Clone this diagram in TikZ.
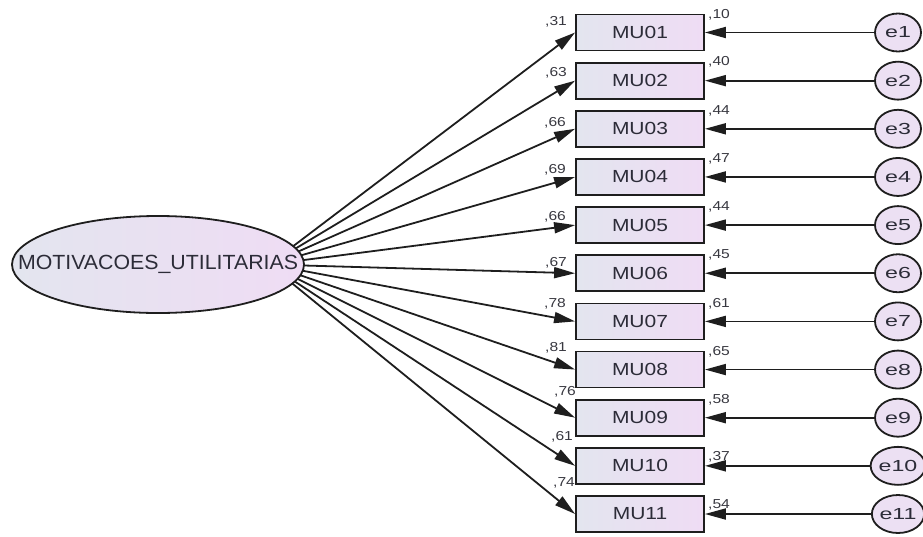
\documentclass[tikz,border=0pt]{standalone}
\usepackage{fontspec}
\setmainfont{Liberation Sans}
\usepackage{graphicx}
\usetikzlibrary{arrows.meta,shapes.geometric,backgrounds}
\definecolor{lineC}{HTML}{1E1E1E}
\definecolor{fillL}{HTML}{E3E5EF}
\definecolor{fillR}{HTML}{EFDCF4}
\definecolor{errF}{HTML}{ECE0F3}
\definecolor{txt}{HTML}{2C2C38}
\definecolor{lblC}{HTML}{383840}
\newcommand{\hsc}[2]{\scalebox{#1}[1]{#2}}
\begin{document}
\begin{tikzpicture}[x=1pt,y=-1pt,
 obs/.style={draw=lineC, line width=1.8pt, left color=fillL, right color=fillR,
   minimum width=128pt, minimum height=36pt, inner sep=0pt, text=txt,
   font=\fontsize{17.5}{20}\selectfont},
 lat/.style={ellipse, draw=lineC, line width=1.8pt, left color=fillL, right color=fillR,
   minimum width=292pt, minimum height=97pt, inner sep=0pt},
 lattxt/.style={inner sep=0pt, text=txt, font=\fontsize{20.5}{24}\selectfont},
 err/.style={ellipse, draw=lineC, line width=1.8pt, fill=errF,
   minimum width=46pt, minimum height=38pt, inner sep=0pt, text=txt,
   font=\fontsize{16}{18}\selectfont},
 lbl/.style={inner sep=0pt, text=lblC, font=\fontsize{13}{14}\selectfont},
 arr/.style={draw=lineC, line width=1.8pt, -{Triangle[length=21pt,width=11pt]}},
]
\useasboundingbox (0,0) rectangle (923,536);
\coordinate (F) at (269,264.5);
\node[lat] (lat) at (158,264.5) {};
\node[lattxt] (lattext) at (158,264.5) {\hsc{1.04}{MOTIVACOES\_UTILITARIAS}};
\foreach \n/\a/\b/\lx/\ly/\ey [count=\k] in {
  01/31/10/556/10.5/18,
  02/63/40/556/8/19,
  03/66/44/555/6/18,
  04/69/47/555/7/18,
  05/66/44/555/8/18,
  06/67/45/556/10/18,
  07/78/61/555/18/18,
  08/81/65/556/22/18,
  09/76/58/565/26/18,
  10/61/37/562/29/9,
  11/74/54/564/31/9}{
  \pgfmathsetmacro{\yy}{32.5+(\k-1)*48.15}
  \node[obs] (MU\n) at (640,\yy) {\hsc{1.2}{MU\n}};
  \node[err] (e\k) at (898,\yy) {\hsc{1.45}{e\k}};
  \node[lbl] (l\n) at (\lx,\yy-\ly) {\hsc{1.2}{,\a}};
  \node[lbl] (v\n) at (719,\yy-\ey) {\hsc{1.2}{,\b}};
  \draw[arr] (e\k) -- (MU\n);
  \begin{pgfonlayer}{background}
    \draw[arr] (F) -- (MU\n.west);
  \end{pgfonlayer}
}
\end{tikzpicture}
\end{document}
